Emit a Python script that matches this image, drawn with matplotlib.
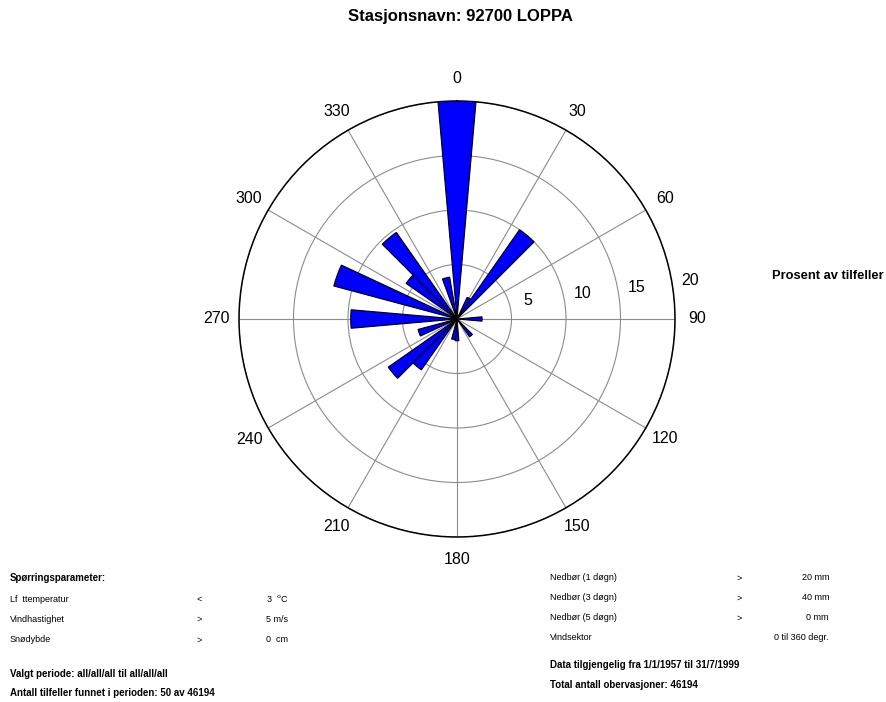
import numpy as np
import matplotlib
matplotlib.use("Agg")
import matplotlib.pyplot as plt

plt.rcParams['font.family'] = ['Liberation Sans', 'DejaVu Sans']

# ---- data ----
directions = [0, 30, 40, 90, 140, 180, 190, 220, 230, 250, 270, 290, 310, 320, 345]
percent =    [20, 2.2, 10, 2.3, 2.0, 2.0, 1.9, 5.7, 7.7, 3.7, 9.75, 11.7, 5.7, 9.7, 3.9]
sector_width = 10
theta_ticks = list(range(0, 360, 30))
r_ticks = [5, 10, 15, 20]
r_max = 20

title = "Stasjonsnavn: 92700 LOPPA"
r_axis_title = "Prosent av tilfeller"

left_rows = [("Lf  ttemperatur", "<", "3  $^{\\mathrm{o}}$C"),
             ("Vindhastighet", ">", "5 m/s"),
             ("Snødybde", ">", "0  cm")]
right_rows = [("Nedbør (1 døgn)", ">", "20 mm"),
              ("Nedbør (3 døgn)", ">", "40 mm"),
              ("Nedbør (5 døgn)", ">", "0 mm"),
              ("Vindsektor", "", "0 til 360 degr.")]

W, H = 886, 702
fig = plt.figure(figsize=(W / 100, H / 100), dpi=100)

cx, cy, R = 457, 319, 218
ax = fig.add_axes([(cx - R) / W, 1 - (cy + R) / H, 2 * R / W, 2 * R / H], projection='polar')
ax.set_theta_zero_location('N')
ax.set_theta_direction(-1)

ax.bar(np.deg2rad(directions), percent, width=np.deg2rad(sector_width),
       color='#0000FF', edgecolor='black', linewidth=0.8, zorder=3)

ax.set_ylim(0, r_max)
ax.set_yticks(r_ticks)
ax.set_yticklabels([])
ax.set_xticks(np.deg2rad(theta_ticks))
ax.set_xticklabels([])
ax.tick_params(length=0)
ax.grid(True, color='#8c8c8c', linewidth=0.8)
ax.spines['polar'].set_color('black')
ax.spines['polar'].set_linewidth(1.1)

label_r = r_max * 240 / 218
for t in theta_ticks:
    ax.text(np.deg2rad(t), label_r, str(t), ha='center', va='center',
            fontsize=11.5, clip_on=False)
for v in r_ticks:
    ax.annotate(str(v), xy=(np.deg2rad(83), v), xytext=(12.2, 8.6),
                textcoords='offset points', ha='center', va='center',
                fontsize=11.5, annotation_clip=False)

fig.text(460 / W, 1 - 17 / H, title, ha='center', va='center',
         fontsize=12, fontweight='bold')
fig.text(772 / W, 1 - 276 / H, r_axis_title, ha='left', va='center',
         fontsize=9.3, fontweight='bold')

fs = 6.5
fsb = 7.0
def yy(p):
    return 1 - p / H

fig.text(10 / W, yy(578), "Spørringsparameter:", fontsize=fsb, fontweight='bold', va='center')
for i, (name, op, val) in enumerate(left_rows):
    y = yy(599 + i * 20.5)
    fig.text(10 / W, y, name, fontsize=fs, va='center')
    fig.text(199 / W, y, op, fontsize=fs, va='center', ha='center')
    fig.text(266 / W, y, val, fontsize=fs, va='center', ha='left')
fig.text(10 / W, yy(674), "Valgt periode: all/all/all til all/all/all",
         fontsize=fsb, fontweight='bold', va='center')
fig.text(10 / W, yy(693), "Antall tilfeller funnet i perioden: 50 av 46194",
         fontsize=fsb, fontweight='bold', va='center')

for i, (name, op, val) in enumerate(right_rows):
    y = yy(578 + i * 20)
    fig.text(550 / W, y, name, fontsize=fs, va='center')
    if op:
        fig.text(739 / W, y, op, fontsize=fs, va='center', ha='center')
    fig.text(829 / W, y, val, fontsize=fs, va='center', ha='right')
fig.text(550 / W, yy(665), "Data tilgjengelig fra 1/1/1957 til 31/7/1999",
         fontsize=fsb, fontweight='bold', va='center')
fig.text(550 / W, yy(685), "Total antall obervasjoner: 46194",
         fontsize=fsb, fontweight='bold', va='center')

fig.savefig("out.png", dpi=100)
